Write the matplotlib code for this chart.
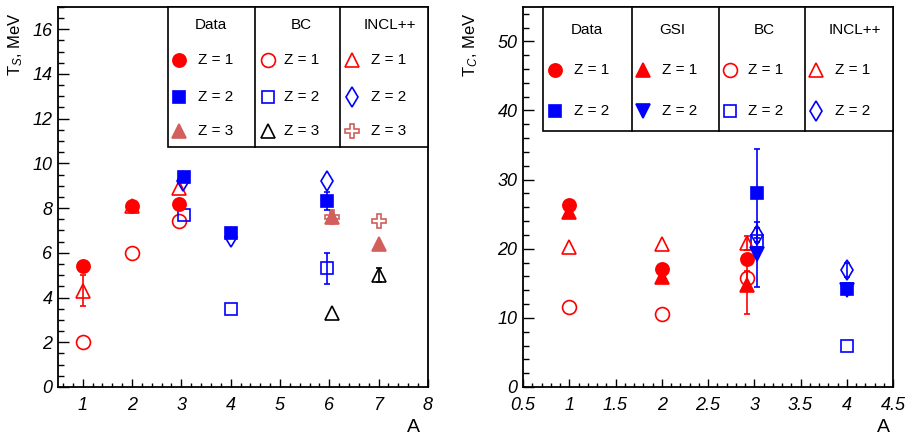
import matplotlib
matplotlib.use("Agg")
from matplotlib import pyplot as plt
from matplotlib.ticker import MultipleLocator

RED = "#ff0000"
BLUE = "#0000ff"
ROSE = "#d25f5b"

# ---- left panel: T_S vs A ----
s_data_z1_A = [1, 2, 2.95]
s_data_z1_T = [5.4, 8.1, 8.2]
s_data_z2_A = [3.05, 4, 5.95]
s_data_z2_T = [9.4, 6.9, 8.3]
s_data_z2_err = [0, 0, 0.4]
s_data_z3_A = [6.05, 7]
s_data_z3_T = [7.6, 6.4]

s_bc_z1_A = [1, 2, 2.95]
s_bc_z1_T = [2.0, 6.0, 7.4]
s_bc_z2_A = [3.05, 4, 5.95]
s_bc_z2_T = [7.7, 3.5, 5.3]
s_bc_z2_err = [0, 0, 0.7]
s_bc_z3_A = [6.05, 7]
s_bc_z3_T = [3.3, 5.0]
s_bc_z3_err = [0, 0.3]

s_incl_z1_A = [1, 2, 2.95]
s_incl_z1_T = [4.3, 8.1, 8.9]
s_incl_z1_err = [0.7, 0, 0]
s_incl_z2_A = [3.03, 4, 5.95]
s_incl_z2_T = [9.2, 6.7, 9.2]
s_incl_z3_A = [6.05, 7]
s_incl_z3_T = [7.6, 7.4]

# ---- right panel: T_C vs A ----
c_data_z1_A = [1, 2, 2.92]
c_data_z1_T = [26.4, 17.0, 18.5]
c_data_z1_err = [0.6, 0.6, 0.7]
c_data_z2_A = [3.03, 4]
c_data_z2_T = [28.0, 14.2]
c_data_z2_err = [6.5, 0.8]

c_gsi_z1_A = [1, 2, 2.92]
c_gsi_z1_T = [25.3, 15.9, 14.8]
c_gsi_z1_err = [0.5, 0.5, 4.3]
c_gsi_z2_A = [3.03, 4]
c_gsi_z2_T = [19.2, 14.0]
c_gsi_z2_err = [4.7, 0.5]

c_bc_z1_A = [1, 2, 2.92]
c_bc_z1_T = [11.6, 10.6, 15.8]
c_bc_z1_err = [0, 0, 1.0]
c_bc_z2_A = [3.03, 4]
c_bc_z2_T = [21.1, 6.0]

c_incl_z1_A = [1, 2, 2.92]
c_incl_z1_T = [20.3, 20.7, 20.8]
c_incl_z1_err = [0, 0, 1.0]
c_incl_z2_A = [3.03, 4]
c_incl_z2_T = [22.0, 16.9]
c_incl_z2_err = [1.0, 1.0]

plt.rcParams['font.family'] = ['Liberation Sans', 'DejaVu Sans']
plt.rcParams['mathtext.fontset'] = 'custom'
plt.rcParams['mathtext.rm'] = 'Liberation Sans'
plt.rcParams['mathtext.it'] = 'Liberation Sans:italic'

# marker styles: (marker, color, filled, size)
STY = {
    "data_z1": ("o", RED, True, 9.5),
    "data_z2": ("s", BLUE, True, 8),
    "data_z3": ("^", ROSE, True, 9.5),
    "gsi_z1": ("^", RED, True, 9.5),
    "gsi_z2": ("v", BLUE, True, 9.5),
    "bc_z1": ("o", RED, False, 10),
    "bc_z2": ("s", BLUE, False, 9),
    "bc_z3": ("^", "black", False, 10),
    "incl_z1": ("^", RED, False, 10),
    "incl_z2": ("d", BLUE, False, 10),
    "incl_z3": ("P", ROSE, False, 10),
}


def draw(ax, key, x, y, err=None):
    m, c, filled, ms = STY[key]
    fc = c if filled else "none"
    if err is not None:
        ex = [a for a, e in zip(x, err) if e > 0]
        ey = [b for b, e in zip(y, err) if e > 0]
        ee = [e for e in err if e > 0]
        ax.errorbar(ex, ey, yerr=ee, fmt="none", ecolor=c, elinewidth=1.2,
                    capsize=2, capthick=1.2, zorder=3)
    ax.plot(x, y, m, linestyle="none", mfc=fc, mec=c, ms=ms, mew=1.2, zorder=3)


def marker(ax, key, x, y):
    m, c, filled, ms = STY[key]
    fc = c if filled else "none"
    ax.plot([x], [y], m, color=c, mfc=fc, mec=c, ms=ms, mew=1.2,
            transform=ax.transAxes, clip_on=False, zorder=11)


def table(ax, x0, dividers, y0, cols, rows_y, head_y):
    ax.add_patch(plt.Rectangle((x0, y0), 1 - x0, 1 - y0, transform=ax.transAxes,
                               facecolor="white", edgecolor="black", lw=1.2,
                               zorder=10, clip_on=False))
    for d in dividers:
        ax.plot([d, d], [y0, 1], color="black", lw=1.2, transform=ax.transAxes,
                zorder=11, clip_on=False)
    for title, hx, mx, tx, keys in cols:
        ax.text(hx, head_y, title, transform=ax.transAxes, ha="center",
                va="center", fontsize=11, zorder=12)
        for i, k in enumerate(keys):
            marker(ax, k, mx, rows_y[i])
            ax.text(tx, rows_y[i], "Z = %d" % (i + 1), transform=ax.transAxes,
                    ha="left", va="center", fontsize=11, zorder=12)


def style(ax):
    ax.tick_params(which="both", direction="in", top=False, right=False)
    ax.tick_params(axis="x", which="major", length=6, width=1, pad=7, labelsize=13)
    ax.tick_params(axis="x", which="minor", length=3, width=1)
    ax.tick_params(axis="y", which="major", length=8, width=1, pad=4, labelsize=13)
    ax.tick_params(axis="y", which="minor", length=4, width=1)
    for lab in ax.get_xticklabels() + ax.get_yticklabels():
        lab.set_fontstyle("italic")
    for sp in ax.spines.values():
        sp.set_linewidth(1.3)


fig = plt.figure(figsize=(9.09, 4.36), dpi=100)
ax1 = fig.add_axes([0.0638, 0.1124, 0.407, 0.872])
ax2 = fig.add_axes([0.5754, 0.1124, 0.407, 0.872])

# left
draw(ax1, "bc_z1", s_bc_z1_A, s_bc_z1_T)
draw(ax1, "bc_z2", s_bc_z2_A, s_bc_z2_T, s_bc_z2_err)
draw(ax1, "bc_z3", s_bc_z3_A, s_bc_z3_T, s_bc_z3_err)
draw(ax1, "incl_z1", s_incl_z1_A, s_incl_z1_T, s_incl_z1_err)
draw(ax1, "incl_z2", s_incl_z2_A, s_incl_z2_T)
draw(ax1, "incl_z3", s_incl_z3_A, s_incl_z3_T)
draw(ax1, "data_z1", s_data_z1_A, s_data_z1_T)
draw(ax1, "data_z2", s_data_z2_A, s_data_z2_T, s_data_z2_err)
draw(ax1, "data_z3", s_data_z3_A, s_data_z3_T)

ax1.set_xlim(0.5, 8)
ax1.set_ylim(0, 17)
ax1.xaxis.set_major_locator(MultipleLocator(1))
ax1.xaxis.set_minor_locator(MultipleLocator(0.2))
ax1.yaxis.set_major_locator(MultipleLocator(2))
ax1.yaxis.set_minor_locator(MultipleLocator(0.5))
style(ax1)
ax1.set_xlabel("A", fontsize=14)
ax1.xaxis.set_label_coords(0.96, -0.085)
ax1.set_ylabel(r"T$_{S}$, MeV", fontsize=12, loc="top")
ax1.yaxis.set_label_coords(-0.09, 0.985)

table(ax1, 0.297, [0.532, 0.762], 0.632,
      [("Data", 0.414, 0.327, 0.378, ["data_z1", "data_z2", "data_z3"]),
       ("BC", 0.657, 0.568, 0.611, ["bc_z1", "bc_z2", "bc_z3"]),
       ("INCL++", 0.897, 0.795, 0.846, ["incl_z1", "incl_z2", "incl_z3"])],
      [0.861, 0.763, 0.674], 0.953)

# right
draw(ax2, "bc_z1", c_bc_z1_A, c_bc_z1_T, c_bc_z1_err)
draw(ax2, "bc_z2", c_bc_z2_A, c_bc_z2_T)
draw(ax2, "incl_z1", c_incl_z1_A, c_incl_z1_T, c_incl_z1_err)
draw(ax2, "incl_z2", c_incl_z2_A, c_incl_z2_T, c_incl_z2_err)
draw(ax2, "data_z1", c_data_z1_A, c_data_z1_T, c_data_z1_err)
draw(ax2, "data_z2", c_data_z2_A, c_data_z2_T, c_data_z2_err)
draw(ax2, "gsi_z1", c_gsi_z1_A, c_gsi_z1_T, c_gsi_z1_err)
draw(ax2, "gsi_z2", c_gsi_z2_A, c_gsi_z2_T, c_gsi_z2_err)

ax2.set_xlim(0.5, 4.5)
ax2.set_ylim(0, 55)
ax2.xaxis.set_major_locator(MultipleLocator(0.5))
ax2.xaxis.set_minor_locator(MultipleLocator(0.1))
ax2.yaxis.set_major_locator(MultipleLocator(10))
ax2.yaxis.set_minor_locator(MultipleLocator(2))
ax2.xaxis.set_major_formatter(lambda v, p: "%g" % v)
style(ax2)
ax2.set_xlabel("A", fontsize=14)
ax2.xaxis.set_label_coords(0.973, -0.085)
ax2.set_ylabel(r"T$_{C}$, MeV", fontsize=12, loc="top")
ax2.yaxis.set_label_coords(-0.116, 0.985)

table(ax2, 0.054, [0.295, 0.530, 0.762], 0.674,
      [("Data", 0.173, 0.086, 0.138, ["data_z1", "data_z2"]),
       ("GSI", 0.403, 0.324, 0.376, ["gsi_z1", "gsi_z2"]),
       ("BC", 0.651, 0.559, 0.608, ["bc_z1", "bc_z2"]),
       ("INCL++", 0.897, 0.792, 0.843, ["incl_z1", "incl_z2"])],
      [0.834, 0.726], 0.939)

fig.savefig("out.png", dpi=100)
